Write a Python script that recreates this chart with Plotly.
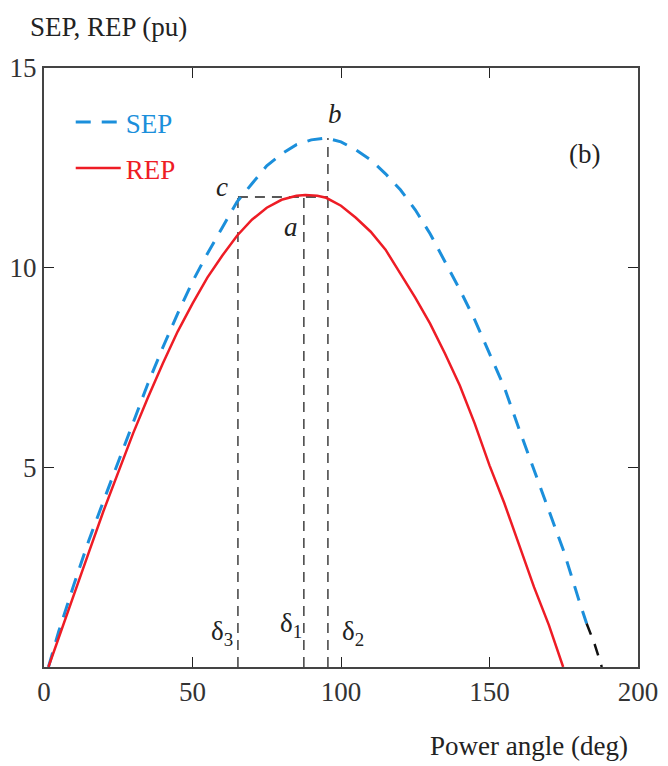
import plotly.graph_objects as go

# ---------------- data ----------------
rep_deg = [1.5, 5, 10, 15, 20, 25, 30, 35, 40, 45, 50, 55, 60, 65, 70, 75, 80, 85, 88, 92, 95,
           100, 105, 110, 115, 120, 125, 130, 135, 140, 145, 150, 155, 160, 165, 170, 174.8]
rep_val = [0, 0.75, 1.8, 2.85, 3.9, 4.9, 5.85, 6.75, 7.6, 8.4, 9.1, 9.75, 10.3, 10.8, 11.2, 11.5,
           11.7, 11.8, 11.82, 11.8, 11.75, 11.55, 11.25, 10.9, 10.45, 9.85, 9.25, 8.6, 7.85, 7.05,
           6.1, 5.05, 4.1, 3.05, 2.0, 1.05, 0]

sep_deg = [1.5, 5, 10, 15, 20, 25, 30, 35, 40, 45, 50, 55, 60, 65, 70, 75, 80, 85, 90, 95, 100,
           105, 110, 115, 120, 125, 130, 135, 140, 145, 150, 155, 160, 165, 170, 175, 180, 182.7]
sep_val = [0, 0.9, 2.05, 3.15, 4.15, 5.15, 6.15, 7.1, 8.0, 8.85, 9.65, 10.35, 11.0, 11.65, 12.1,
           12.55, 12.85, 13.08, 13.2, 13.25, 13.15, 12.95, 12.7, 12.35, 11.95, 11.45, 10.85, 10.15,
           9.45, 8.7, 7.85, 7.0, 5.95, 4.95, 3.9, 2.9, 1.7, 1.09]

tail_deg = [182.7, 185.5, 187.8]
tail_val = [1.09, 0.55, 0.0]

delta3, delta1, delta2 = 65.3, 87.5, 95.6
level_a = 11.77
level_b = 13.25

x_ticks = [0, 50, 100, 150, 200]
y_ticks = [5, 10, 15]

FONT = "Liberation Serif"
BLUE = "#1b8fdb"
RED = "#ee1c25"
FS = 27

fig = go.Figure()

# guide lines
guide = dict(color="#222222", width=1.3, dash="10px,7px")
for xs, ys in [([delta3, delta3], [0, level_a]), ([delta1, delta1], [0, level_a]),
               ([delta2, delta2], [0, level_b]), ([delta3, delta2], [level_a, level_a])]:
    fig.add_trace(go.Scatter(x=xs, y=ys, mode="lines", line=guide,
                             showlegend=False, hoverinfo="skip"))

fig.add_trace(go.Scatter(x=sep_deg, y=sep_val, mode="lines", legendgroup="sep",
                         name="<span style='color:%s'>SEP</span>" % BLUE,
                         line=dict(color=BLUE, width=3, dash="15px,11px")))
fig.add_trace(go.Scatter(x=rep_deg, y=rep_val, mode="lines", legendgroup="rep",
                         name="<span style='color:%s'>REP</span>" % RED,
                         line=dict(color=RED, width=2.5)))
fig.add_trace(go.Scatter(x=tail_deg, y=tail_val, mode="lines", showlegend=False,
                         line=dict(color="#111111", width=2.5, dash="12px,10px")))

txt = dict(size=FS, color="#222")
annotations = [
    dict(x=0, y=1.0, xref="paper", yref="paper", xshift=-16, yshift=24, text="SEP, REP (pu)",
         showarrow=False, xanchor="left", yanchor="bottom", font=txt),
    dict(x=1.0, y=0, xref="paper", yref="paper", xshift=-8, yshift=-62, text="Power angle (deg)",
         showarrow=False, xanchor="right", yanchor="top", font=txt),
    dict(x=delta2 + 2.3, y=level_b + 0.6, text="<i>b</i>", showarrow=False, font=txt),
    dict(x=delta3 - 5.4, y=level_a + 0.25, text="<i>c</i>", showarrow=False, font=txt),
    dict(x=delta1 - 4.3, y=level_a - 0.75, text="<i>a</i>", showarrow=False, font=txt),
    dict(x=delta3 - 5.4, y=0.85, text="δ<sub>3</sub>", showarrow=False, font=txt),
    dict(x=delta1 - 4.3, y=1.05, text="δ<sub>1</sub>", showarrow=False, font=txt),
    dict(x=delta2 + 8.3, y=0.85, text="δ<sub>2</sub>", showarrow=False, font=txt),
    dict(x=182, y=12.85, text="(b)", showarrow=False, font=txt),
]

# the page body has an 8px default margin, so the figure is sized to sit at the reference place
fig.update_layout(
    width=660, height=758,
    margin=dict(l=36, r=30, t=60, b=99),
    paper_bgcolor="white", plot_bgcolor="white",
    font=dict(family=FONT, size=FS, color="#333"),
    showlegend=True,
    legend=dict(x=0.045, y=0.95, xanchor="left", yanchor="top", bgcolor="rgba(0,0,0,0)",
                font=dict(family=FONT, size=FS), itemwidth=45, tracegroupgap=8),
    annotations=annotations,
)
axis_common = dict(showgrid=False, zeroline=False, showline=True, linecolor="#444", linewidth=2,
                   mirror="ticks", ticks="inside", ticklen=10, tickwidth=1.3, tickcolor="#222",
                   tickfont=dict(size=FS, color="#333"), automargin=False)
fig.update_xaxes(range=[0, 200], tickvals=x_ticks, ticktext=[str(v) for v in x_ticks], **axis_common)
fig.update_yaxes(range=[0, 15], tickvals=y_ticks, ticktext=[str(v) for v in y_ticks], **axis_common)

fig.write_html("out.html")
